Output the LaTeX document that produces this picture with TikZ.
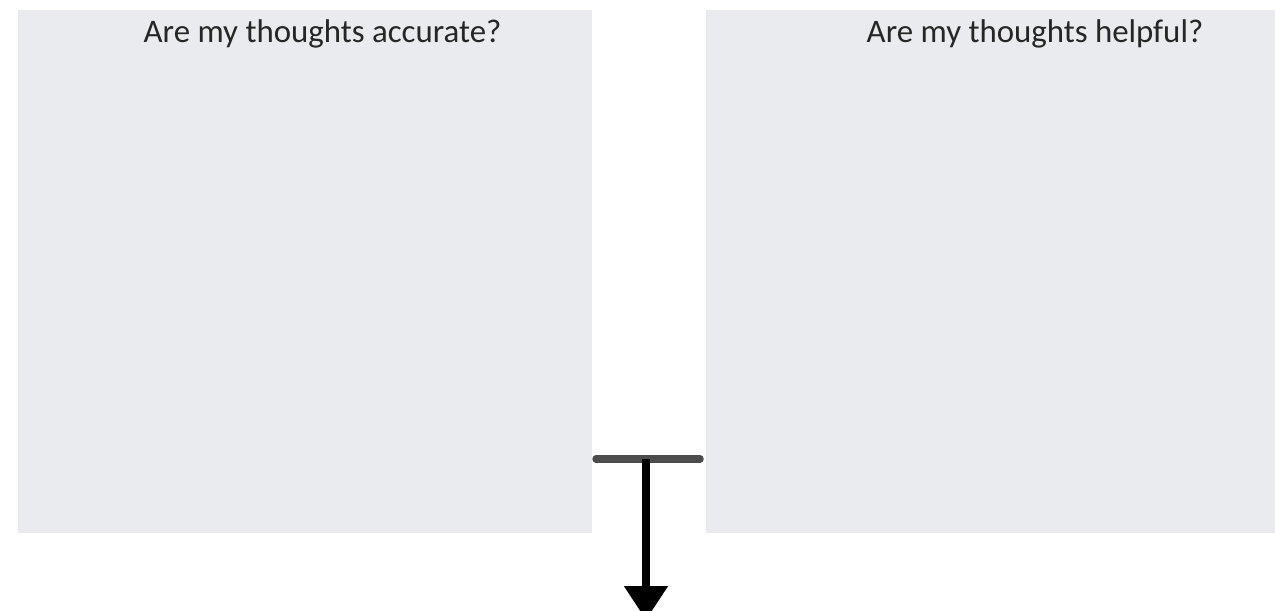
\documentclass[tikz,border=0pt]{standalone}
\usepackage{fontspec}
\setmainfont{Carlito}
\usetikzlibrary{arrows.meta,positioning}

\begin{document}
\begin{tikzpicture}[
  panel/.style={rectangle,fill=panelgray,inner sep=0pt},
  title/.style={font=\fontsize{18.7}{22}\selectfont,text=black!85,anchor=center},
  bar/.style={line width=0.15cm,draw=black!70,line cap=round},
  flow/.style={line width=0.16cm,-{Triangle[width=0.84cm,length=0.68cm]}}]
  \definecolor{panelgray}{HTML}{E9EBEE}
  \useasboundingbox (0,0) rectangle (25.5,-12.2);

  \node(accurate)[panel,minimum width=11.48cm,minimum height=10.46cm] at (6.1,-5.43) {};
  \node(helpful) [panel,minimum width=11.38cm,minimum height=10.46cm] at (19.81,-5.43) {};

  \node(accuratetitle)[title] at (6.45,-0.68) {Are my thoughts accurate?};
  \node(helpfultitle) [title] at (20.7,-0.68)  {Are my thoughts helpful?};

  \coordinate(barleft)  at (11.92,-9.18);
  \coordinate(barright) at (14.0,-9.18);
  \coordinate(barmid)   at (12.92,-9.18);
  \coordinate(down)     at (12.92,-12.4);

  \draw[bar] (barleft) -- (barright);
  \draw[flow] (barmid) -- (down);

\end{tikzpicture}
\end{document}
